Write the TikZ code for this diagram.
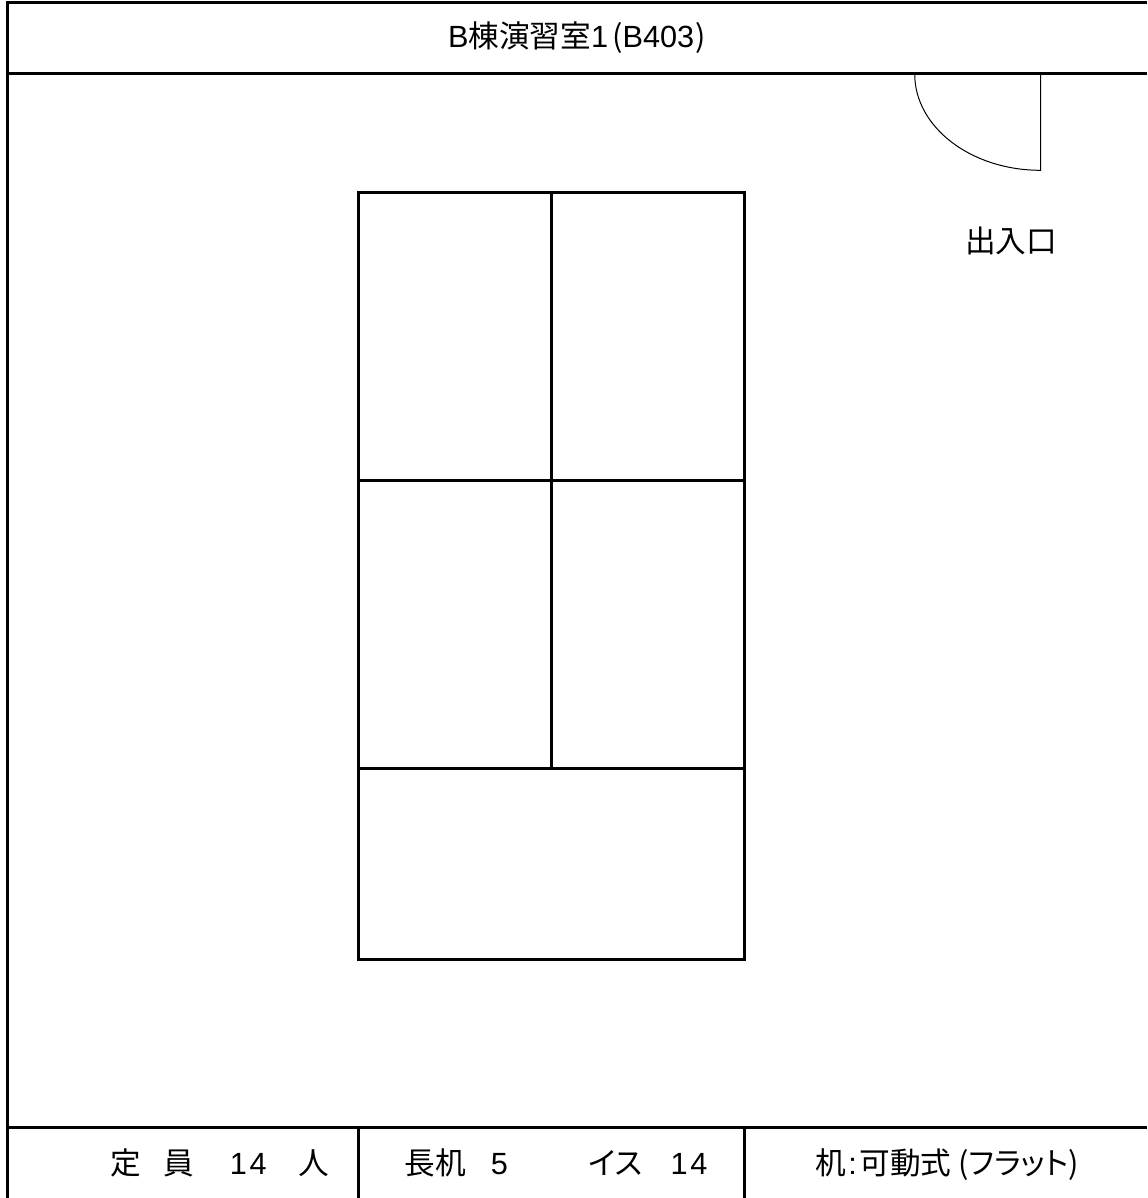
\documentclass[tikz,border=0pt]{standalone}
\usepackage{fontspec}
\setmainfont{Liberation Sans}
\newfontfamily\cjk{Noto Sans CJK JP}
\newfontfamily\cjkprop[RawFeature=+palt]{Noto Sans CJK JP}
\newcommand\jp[1]{{\cjk #1}}
\newcommand\kana[1]{{\cjkprop #1}}
\tikzset{
  wall/.style={line width=2.25pt},
  door/.style={line width=0.75pt},
  roomlabel/.style={font=\fontsize{23}{28}\selectfont, inner sep=0pt}
}

\begin{document}
\begin{tikzpicture}[x=0.75pt, y=-0.75pt]
\useasboundingbox (0,0) rectangle (1147,1198);
% room outline
\draw[wall] (1147,2.5) -- (7.5,2.5) -- (7.5,1198);
\draw[wall] (7.5,74) -- (1147,74);
\draw[wall] (7.5,1127.5) -- (1147,1127.5);
\draw[wall] (358.5,1127.5) -- (358.5,1198);
\draw[wall] (744.5,1127.5) -- (744.5,1198);
% door
\draw[door] (914.7,74) arc[start angle=180, end angle=90, x radius=125.8, y radius=96.3] -- (1040.5,74);
% tables
\draw[wall] (358.5,192.5) rectangle (744.8,959.5);
\draw[wall] (551.5,192.5) -- (551.5,768.5);
\draw[wall] (358.5,480.5) -- (744.8,480.5);
\draw[wall] (358.5,768.5) -- (744.8,768.5);
% labels
\node[roomlabel] (title) at (577,38) {B\jp{棟演習室}1\hspace{3pt}\kana{(}B403\hspace{1pt}\kana{)}};
\node[roomlabel] (entrance) at (1011,241) {\jp{出入口}};
\node[roomlabel, anchor=base] (capacity) at (220,1174) {\jp{定}\hspace{16.5pt}\jp{員}\hspace{27pt}1\hspace{2pt}4\hspace{24pt}\jp{人}};
\node[roomlabel, anchor=base] (furniture) at (556,1174) {\jp{長机}\hspace{18.75pt}5\hspace{60.75pt}\kana{イス}\hspace{21pt}1\hspace{2pt}4};
\node[roomlabel, anchor=base] (desk) at (947,1174) {\jp{机}\hspace{2pt}:\hspace{2pt}\jp{可動式}\hspace{5pt}\kana{(フラット)}};
\end{tikzpicture}
\end{document}
